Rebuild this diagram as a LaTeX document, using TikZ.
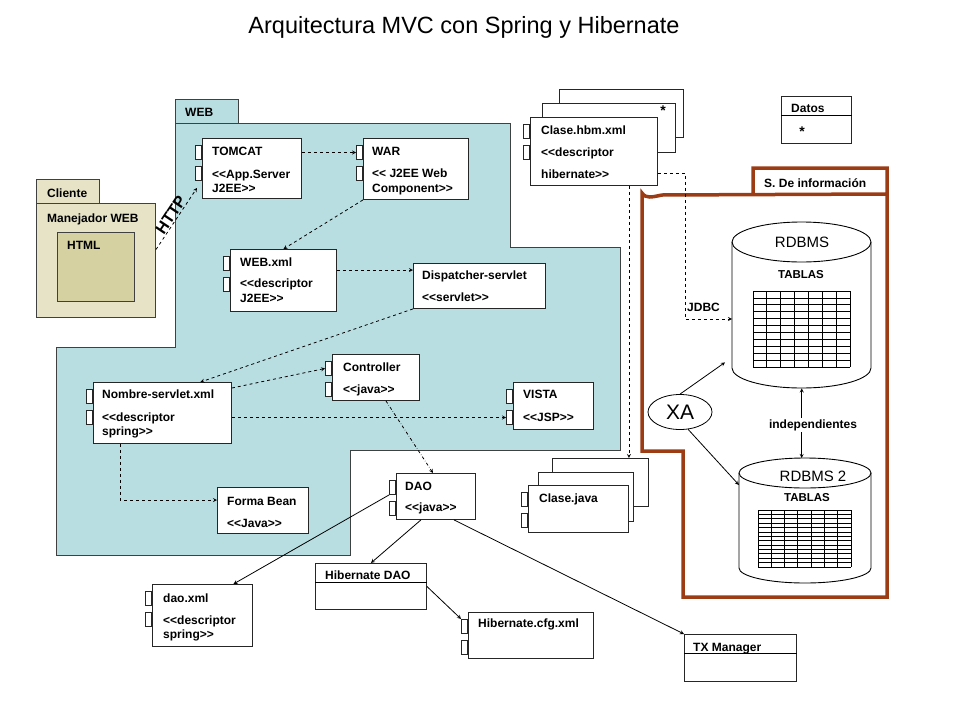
\documentclass[tikz,border=0pt]{standalone}
\usepackage{fontspec}
\setmainfont{Liberation Sans}
\usepackage{xcolor}
\usepackage{tikz}
\usetikzlibrary{shapes.geometric}

\definecolor{webfill}{RGB}{185,222,226}
\definecolor{clifill}{RGB}{230,227,198}
\definecolor{htmlfill}{RGB}{213,209,160}
\definecolor{infobrown}{RGB}{155,60,20}
\newcommand{\lts}{<\kern0pt<}
\newcommand{\gts}{>\kern0pt>}

\begin{document}
\begin{tikzpicture}[x=1pt, y=-1pt, >=stealth,
  every box/.style={draw=black!85, fill=white, line width=0.9pt, anchor=north west, inner sep=0pt},
  port/.style={draw=black!85, fill=white, line width=0.9pt, anchor=north east, inner sep=0pt,
    minimum width=6pt, minimum height=14pt},
  pkg/.style={draw=black!75, line width=1pt},
  info/.style={draw=infobrown, line width=3.5pt},
  txt/.style={anchor=base west, inner sep=0pt, font=\fontsize{12}{14}\selectfont\bfseries},
  dep/.style={->, dashed, line width=0.8pt},
  rel/.style={->, line width=0.8pt}]

\useasboundingbox (0,0) rectangle (960,720);

\node (title) at (464,27) {\fontsize{23.5}{28}\selectfont Arquitectura MVC con Spring y Hibernate};

% paquetes
\draw[pkg, fill=webfill] (175,123) -- (510,123) -- (510,247) -- (620,247) -- (620,450)
  -- (350,450) -- (350,555) -- (56,555) -- (56,347) -- (175,347) -- cycle;
\node[every box, pkg, fill=webfill, minimum width=63pt, minimum height=24pt] (webtab) at (175,99) {};
\node[every box, pkg, fill=clifill, minimum width=63pt, minimum height=24pt] (clitab) at (36,179) {};
\node[every box, pkg, fill=clifill, minimum width=119pt, minimum height=114pt] (cli) at (36,203) {};
\node[every box, pkg, fill=htmlfill, minimum width=77pt, minimum height=69pt] (html) at (57,232) {};

\draw[info] (887,194) -- (662,195) .. controls (652,197) and (646,199) .. (642,193)
  -- (642,451) -- (683,451) -- (683,597) -- (887,597) -- (887,168) -- (753,168) -- (753,195);

% cajas apiladas
\foreach \n/\x/\y/\w/\h in {hbm3/559/89/124/48, hbm2/542/103/133/49,
                            java3/552/458/96/48, java2/538/472/95/49}
  \node[every box, minimum width=\w pt, minimum height=\h pt] (\n) at (\x,\y) {};

% componentes
\foreach \n/\x/\y/\w/\h in {tomcat/202/138/99/60, war/363/138/105/61, webxml/230/249/106/62,
                            nombre/93/382/138/61, ctrl/332/354/87/46, vista/513/382/80/47,
                            dao/396/473/79/46, daoxml/152/584/100/62, cfg/468/612/125/46,
                            hbm/530/117/127/68, java/528/485/100/47} {
  \node[every box, minimum width=\w pt, minimum height=\h pt] (\n) at (\x,\y) {};
  \node[port] (\n-a) at ([yshift=-7pt]\n.north west) {};
  \node[port] (\n-b) at ([yshift=-28pt]\n.north west) {};
}

\foreach \n/\x/\y/\w/\h in {disp/413/263/132/45, bean/217/487/91/46}
  \node[every box, minimum width=\w pt, minimum height=\h pt] (\n) at (\x,\y) {};

% clases
\foreach \n/\x/\y/\w/\h in {hibdao/315/563/111/46, tx/684/634/112/47, datos/781/96/70/47} {
  \node[every box, minimum width=\w pt, minimum height=\h pt] (\n) at (\x,\y) {};
  \draw[line width=0.9pt] ([yshift=-19pt]\n.north west) -- ([yshift=-19pt]\n.north east);
}

% bases de datos
\node[minimum width=139pt, minimum height=166pt, inner sep=0pt, anchor=north west] (rdbms) at (732,222) {};
\node[minimum width=132pt, minimum height=125pt, inner sep=0pt, anchor=north west] (rdbms2) at (739,458) {};
\foreach \l/\r/\t/\b/\rx/\ry in {732/871/242/368/69.5/20, 739/871/473/568/66/15} {
  \draw[line width=0.9pt] ({(\l+\r)/2},\t) ellipse[x radius=\rx pt, y radius=\ry pt];
  \draw[line width=0.9pt] (\l,\t) -- (\l,\b) arc[start angle=180, end angle=360, x radius=\rx pt, y radius=\ry pt] -- (\r,\t);
}
\foreach \ga/\gb/\gc/\gd/\gr in {753/291/850/367/11, 758/510/851/567/13} {
  \foreach \i in {0,...,7}
    \draw[line width=0.8pt] ({\ga+(\gc-\ga)*\i/7},\gb) -- ({\ga+(\gc-\ga)*\i/7},\gd);
  \foreach \j in {0,...,\gr}
    \draw[line width=0.8pt] (\ga,{\gb+(\gd-\gb)*\j/\gr}) -- (\gc,{\gb+(\gd-\gb)*\j/\gr});
}

\node[draw, ellipse, line width=0.8pt, minimum width=64pt, minimum height=35pt, inner sep=0pt,
  font=\fontsize{21}{24}\selectfont] (xa) at (680,412) {XA};

% textos
\foreach \x/\y/\t [count=\i] in {47/197/Cliente, 47/222/Manejador WEB, 67/249/HTML, 185/116/WEB,
    212/155/TOMCAT, 212/178/\lts App.Server, 212/192/J2EE\gts,
    372/155/WAR, 372/177/\lts\ J2EE Web, 372/192/Component\gts,
    240/266/WEB.xml, 240/287/\lts descriptor, 240/302/J2EE\gts,
    422/279/Dispatcher-servlet, 422/301/\lts servlet\gts,
    102/398/Nombre-servlet.xml, 102/421/\lts descriptor, 102/435/spring\gts,
    343/371/Controller, 343/393/\lts java\gts,
    523/398/VISTA, 523/421/\lts JSP\gts,
    227/505/Forma Bean, 227/527/\lts Java\gts,
    405/490/DAO, 405/511/\lts java\gts,
    539/502/Clase.java,
    541/134/Clase.hbm.xml, 541/156/\lts descriptor, 541/178/hibernate\gts,
    163/602/dao.xml, 163/624/\lts descriptor, 163/638/spring\gts,
    325/579/Hibernate DAO, 478/627/Hibernate.cfg.xml, 693/651/TX Manager,
    791/112/Datos, 764/187/S. De información, 687/311/JDBC}
  \node[txt] (t\i) at (\x,\y) {\t};

\node[font=\fontsize{14}{16}\selectfont\bfseries] (star1) at (663,111) {*};
\node[font=\fontsize{14}{16}\selectfont\bfseries] (star2) at (802,132) {*};
\node[font=\fontsize{15}{18}\selectfont] (rdbms-t) at (802,242) {RDBMS};
\node[font=\fontsize{11.5}{14}\selectfont\bfseries] (tablas1) at (801,275) {TABLAS};
\node[font=\fontsize{15}{18}\selectfont] (rdbms2-t) at (813,476) {RDBMS 2};
\node[font=\fontsize{11.5}{14}\selectfont\bfseries] (tablas2) at (807,498) {TABLAS};

% conectores
\path ([yshift=-7pt]disp.north west) coordinate (disp-in);
\path ([yshift=-13pt]bean.north west) coordinate (bean-in);
\path ([xshift=-29pt]hbm.south east) coordinate (hbm-out);
\coordinate (jdbc) at (685,319);

\draw[dep] ([yshift=11pt]cli.east) -- ([shift={(-5pt,11pt)}]tomcat.south west)
  node[sloped, midway, above, inner sep=1pt, font=\fontsize{16}{18}\selectfont\bfseries] (http) {HTTP};
\draw[dep] (tomcat.east |- war-a) -- (war-a.west);
\draw[dep] (war.south west) -- (webxml.north);
\draw[dep] (webxml.east |- disp-in) -- (disp-in);
\draw[dep] (disp.south west) -- ([xshift=38pt]nombre.north);
\draw[dep] ([yshift=-6pt]nombre.north east) -- (ctrl-a.west);
\draw[dep] (nombre.east |- vista-b) -- (vista-b.west);
\draw[dep] ([xshift=-42pt]nombre.south) |- (bean-in);
\draw[->, dash dot, line width=0.8pt] ([xshift=10pt]ctrl.south) -- ([xshift=-3pt]dao.north);
\draw[rel] (dao-a.south west) -- ([xshift=31pt]daoxml.north);
\draw[rel] ([xshift=-15pt]dao.south) -- (hibdao.north);
\draw[rel] ([xshift=18pt]dao.south) -- (tx.north west);
\draw[rel] (hibdao.east) -- (cfg-a.north west);
\draw[dep] (hbm-out) -- (hbm-out |- java3.north);
\draw[dep] ([yshift=13pt]hbm.south east) -| (jdbc) -- (jdbc -| rdbms.west);
\draw[rel] (xa.north) -- ([shift={(-7pt,26pt)}]rdbms.south west);
\draw[rel] (xa.-65) -- ([yshift=-27pt]rdbms2.north west);
\draw[<->, line width=0.8pt] (rdbms.south) -- (rdbms.south |- rdbms2.north);
\node[fill=white, inner sep=1pt, font=\fontsize{12}{14}\selectfont\bfseries] (indep) at (813,425) {independientes};

\end{tikzpicture}
\end{document}
